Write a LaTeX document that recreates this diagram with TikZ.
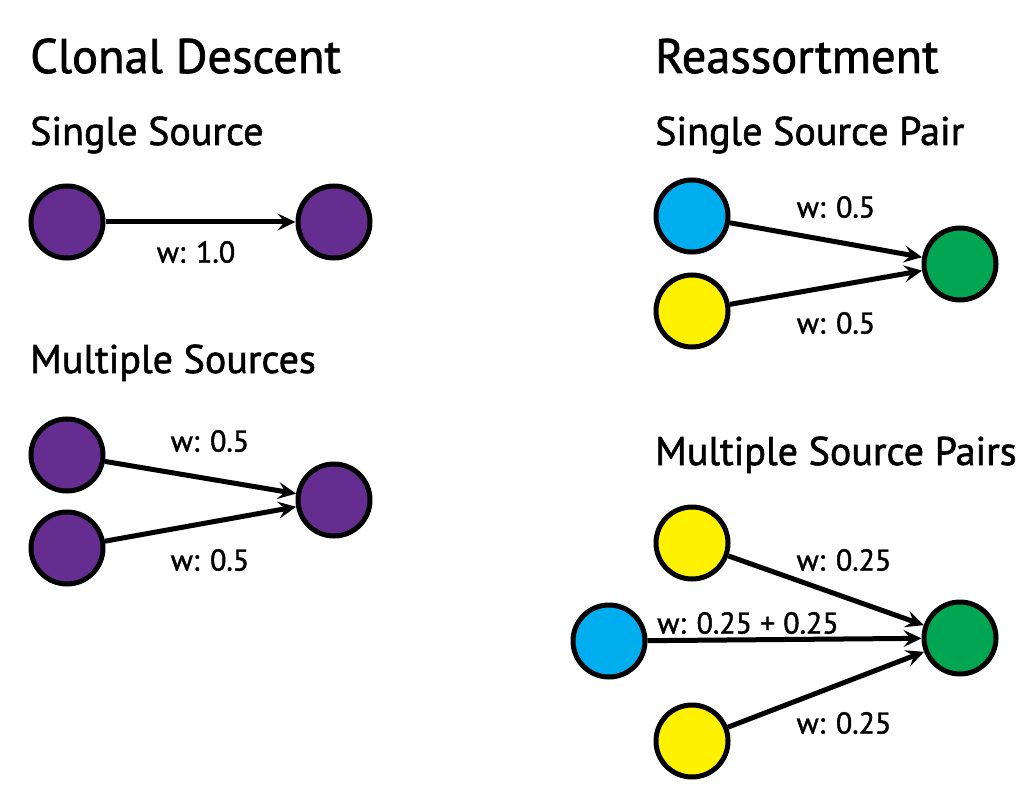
\documentclass[tikz,border=0pt]{standalone}
\usepackage{fontspec}
\setmainfont{PT Sans}[RawFeature={embolden=1.5}]
\usetikzlibrary{arrows.meta}
\definecolor{cpurple}{HTML}{662D91}
\definecolor{cblue}{HTML}{00AEEF}
\definecolor{cyellow}{HTML}{FFF200}
\definecolor{cgreen}{HTML}{00A651}
\begin{document}
\begin{tikzpicture}[x=1pt,y=-1pt,
  strain/.style={circle,draw=black,line width=5pt,minimum size=72pt,inner sep=0pt},
  edge/.style={line width=5pt,-{Stealth[length=18pt,width=17pt,inset=7pt]}},
  header/.style={anchor=base west,inner sep=0pt,font=\fontsize{48.5}{52}\selectfont},
  subheader/.style={anchor=base west,inner sep=0pt,font=\fontsize{40}{44}\selectfont},
  wlabel/.style={inner sep=0pt,font=\fontsize{30}{33}\selectfont}]
\useasboundingbox (0,0) rectangle (1035,802);
% headers
\node[header] (h1) at (30,73) {Clonal Descent};
\node[header] (h2) at (655,73) {Reassortment};
\node[subheader] (s1) at (30,145) {Single Source};
\node[subheader] (s2) at (30,373) {Multiple Sources};
\node[subheader] (s3) at (655,145) {Single Source Pair};
\node[subheader] (s4) at (655,465) {Multiple Source Pairs};
% single source
\node[strain,fill=cpurple] (a1) at (67,222) {};
\node[strain,fill=cpurple] (a2) at (334,222) {};
\draw[edge] (a1) -- (a2);
\node[wlabel] (la) at (196,252) {w: 1.0};
% multiple sources
\node[strain,fill=cpurple] (b1) at (67,455) {};
\node[strain,fill=cpurple] (b2) at (67,548) {};
\node[strain,fill=cpurple] (b3) at (334,500) {};
\draw[edge] (b1) -- (b3);
\draw[edge] (b2) -- (b3);
\node[wlabel] (lb1) at (210,441) {w: 0.5};
\node[wlabel] (lb2) at (210,560) {w: 0.5};
% single source pair
\node[strain,fill=cblue] (c1) at (692,216) {};
\node[strain,fill=cyellow] (c2) at (692,311) {};
\node[strain,fill=cgreen] (c3) at (960,264) {};
\draw[edge] (c1) -- (c3);
\draw[edge] (c2) -- (c3);
\node[wlabel] (lc1) at (836,207) {w: 0.5};
\node[wlabel] (lc2) at (836,323) {w: 0.5};
% multiple source pairs
\node[strain,fill=cyellow] (d1) at (692,543) {};
\node[strain,fill=cblue] (d2) at (609,641) {};
\node[strain,fill=cyellow] (d3) at (692,741) {};
\node[strain,fill=cgreen] (d4) at (960,638) {};
\draw[edge] (d1) -- (d4);
\draw[edge] (d2) -- (d4);
\draw[edge] (d3) -- (d4);
\node[wlabel] (ld1) at (844,560) {w: 0.25};
\node[wlabel] (ld2) at (748,623) {w: 0.25 + 0.25};
\node[wlabel] (ld3) at (844,723) {w: 0.25};
\end{tikzpicture}
\end{document}
